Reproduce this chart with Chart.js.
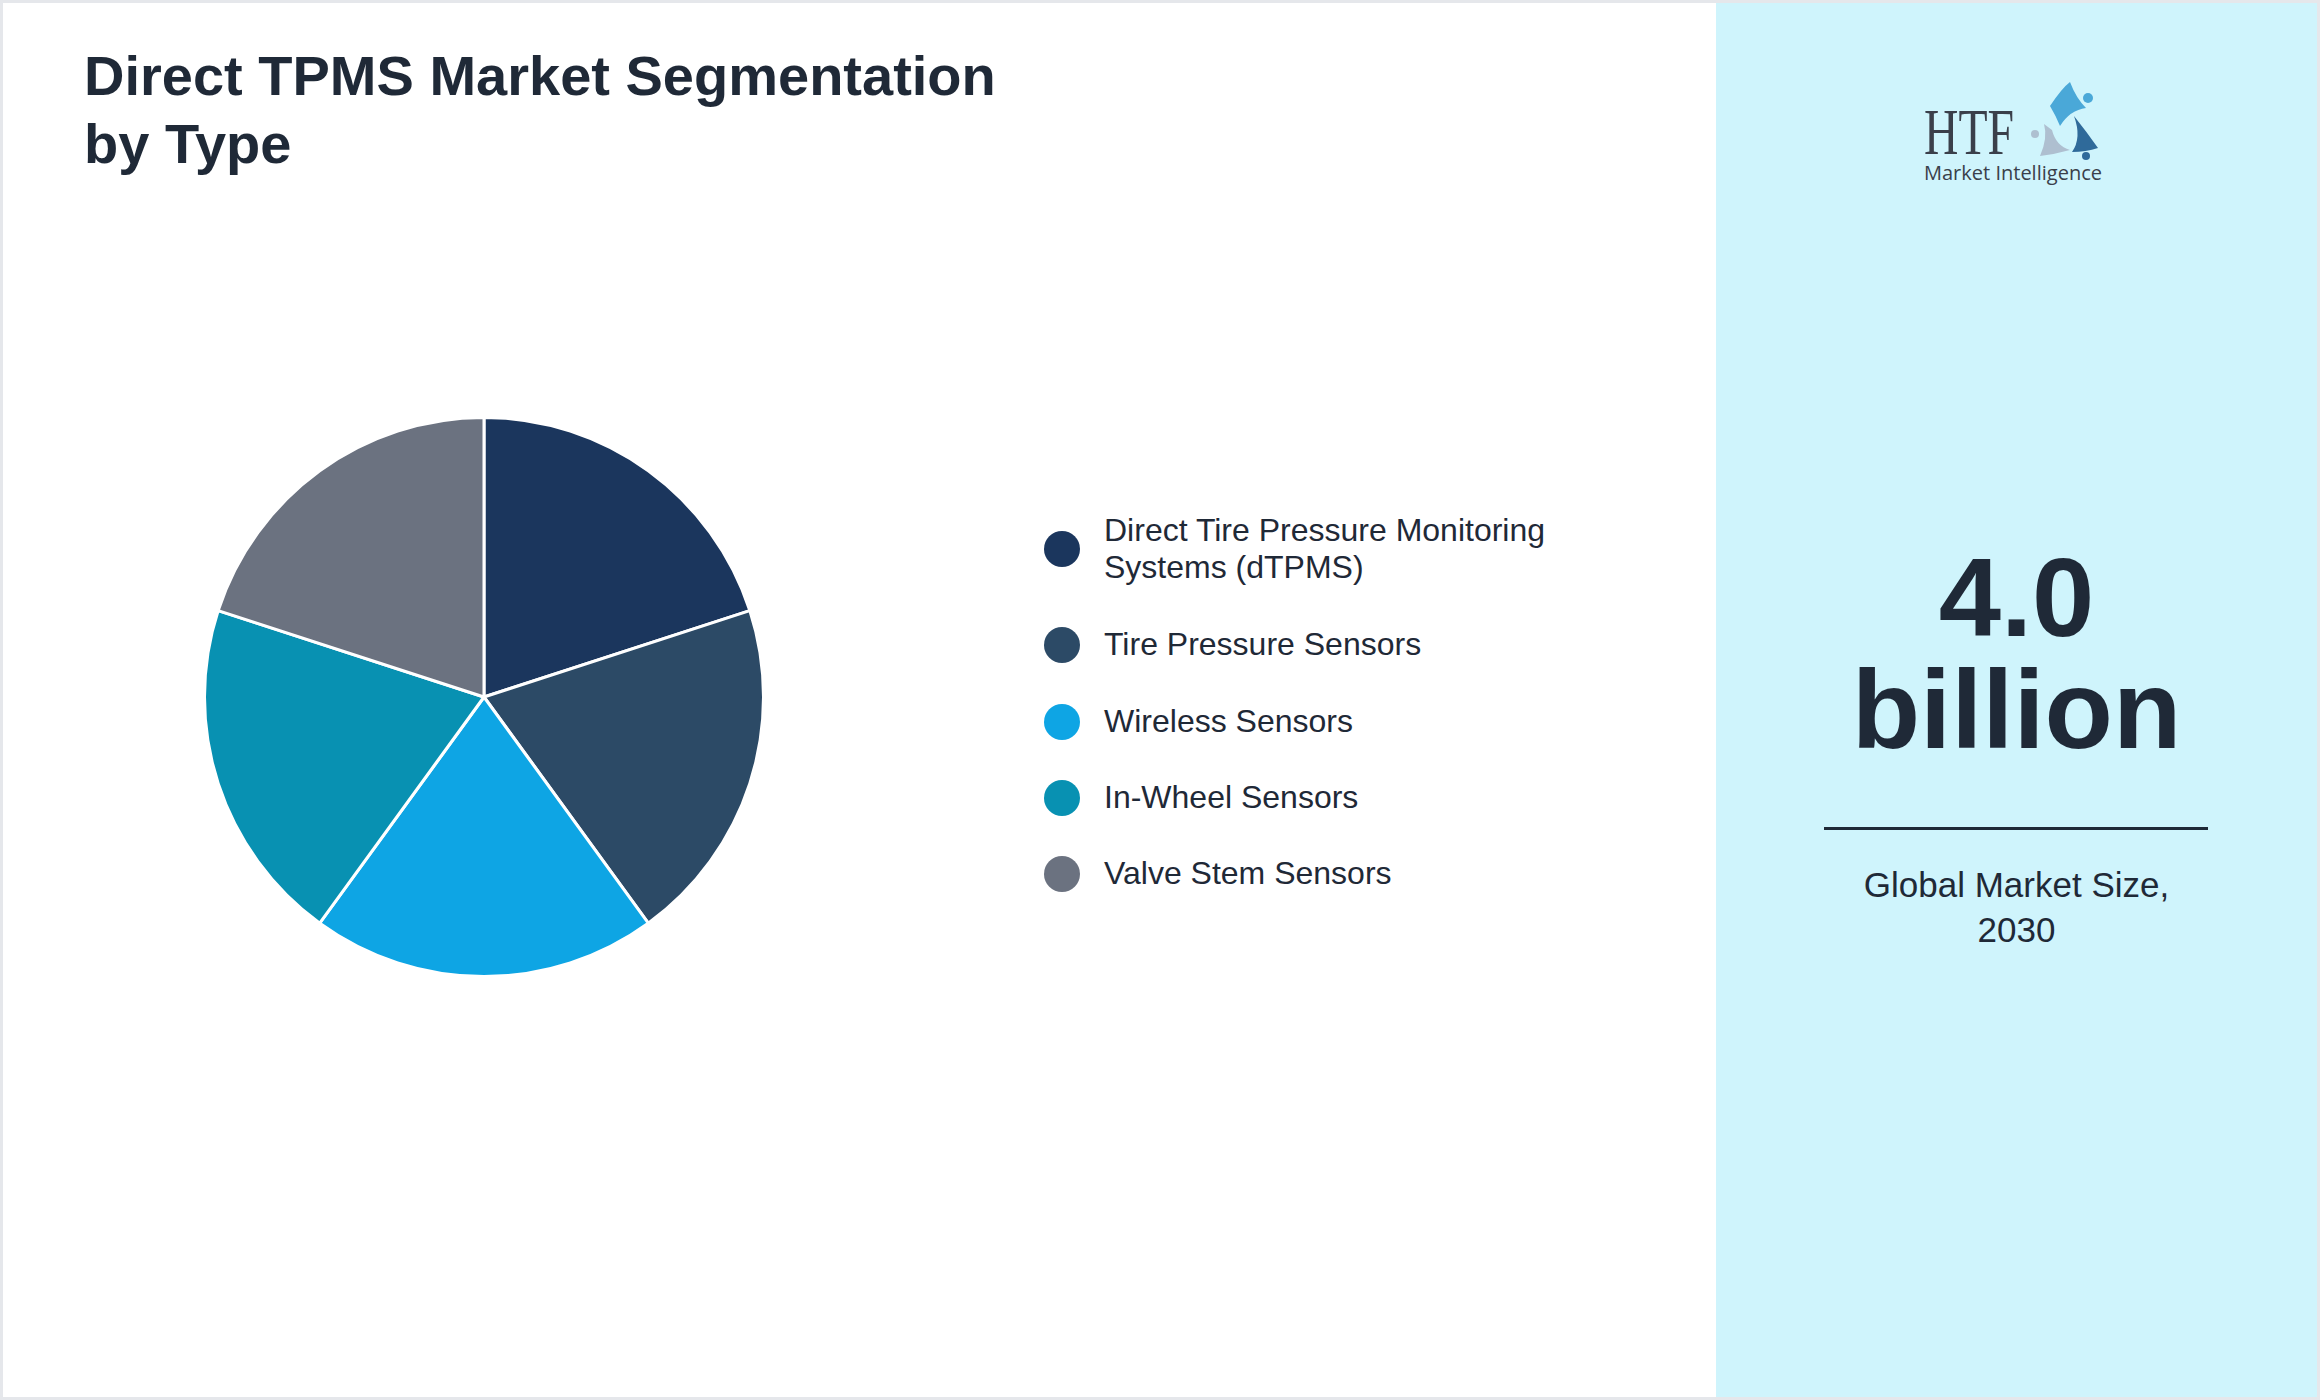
<!DOCTYPE html>
<html>
<head>
<meta charset="utf-8">
<script src="https://cdn.jsdelivr.net/npm/chart.js@4.4.0/dist/chart.umd.min.js"></script>
<style>
  html, body { margin: 0; padding: 0; }
  body { width: 2320px; height: 1400px; position: relative; font-family: "Liberation Sans", Arial, sans-serif; background: #fff; overflow: hidden; }
  #frame { position: absolute; left: 0; top: 0; width: 2314px; height: 1394px; border: 3px solid #e5e7eb; }
  #side { position: absolute; left: 1716px; top: 3px; width: 601px; height: 1394px; background: #cff4fc; }
  #title { position: absolute; left: 84px; top: 42px; font-size: 56px; font-weight: bold; color: #1f2937; line-height: 68px; }
  #pie { position: absolute; left: 196px; top: 409px; width: 576px; height: 576px; }
  #legend { position: absolute; left: 1044px; top: 512px; }
  .item { position: relative; padding-left: 60px; font-size: 32px; color: #1f2937; line-height: 37px; width: 520px; }
  .dot { position: absolute; left: 0; width: 36px; height: 36px; border-radius: 50%; }
  #big { position: absolute; left: 1716px; width: 601px; top: 542px; text-align: center; font-size: 112px; font-weight: bold; color: #1f2937; line-height: 112px; }
  #rule { position: absolute; left: 1824px; top: 827px; width: 384px; height: 3px; background: #1f2937; }
  #sub { position: absolute; left: 1716px; width: 601px; top: 862px; text-align: center; font-size: 35px; color: #1f2937; line-height: 45px; }
  #logo { position: absolute; left: 1920px; top: 76px; }
</style>
</head>
<body>
<div id="frame"></div>
<div id="side"></div>
<div id="title">Direct TPMS Market Segmentation<br>by Type</div>
<div id="pie"><canvas id="chart"></canvas></div>
<div id="legend"></div>
<div id="big">4.0<br>billion</div>
<div id="rule"></div>
<div id="sub">Global Market Size,<br>2030</div>
<svg id="logo" width="190" height="112" viewBox="0 0 190 112">
  <text x="4" y="78" font-family="Liberation Serif, serif" font-size="66" fill="#3a3f4a" textLength="90" lengthAdjust="spacingAndGlyphs">HTF</text>
  <path d="M130 30 Q142 12 150 6 Q156 22 166 32 Q150 34 140 50 Q136 40 130 30 Z" fill="#4aa8d8"/>
  <circle cx="168" cy="22" r="5" fill="#4aa8d8"/>
  <path d="M124 48 Q128 62 120 80 Q136 78 150 74 Q136 70 132 54 Z" fill="#aebfd0"/>
  <circle cx="115" cy="58" r="4" fill="#aebfd0"/>
  <path d="M154 40 Q166 55 178 72 Q166 76 152 76 Q162 62 154 40 Z" fill="#2f6a9a"/>
  <circle cx="166" cy="80" r="4" fill="#2f6a9a"/>
  <text x="4" y="104" font-family="Open Sans, sans-serif" font-size="20" fill="#3a3f4a" textLength="178" lengthAdjust="spacingAndGlyphs">Market Intelligence</text>
</svg>
<script>
const categories = ["Direct Tire Pressure Monitoring Systems (dTPMS)", "Tire Pressure Sensors", "Wireless Sensors", "In-Wheel Sensors", "Valve Stem Sensors"];
const shares = [20, 20, 20, 20, 20];
const colors = ["#1b365d", "#2c4a66", "#0ea5e4", "#0891b2", "#6b7280"];

const legendGaps = [0, 40, 40, 39, 39];
const legend = document.getElementById('legend');
categories.forEach((c, i) => {
  const d = document.createElement('div');
  d.className = 'item';
  d.style.marginTop = legendGaps[i] + 'px';
  const lines = i === 0 ? 2 : 1;
  d.innerHTML = `<span class="dot" style="background:${colors[i]};top:${(lines * 37 - 36) / 2}px"></span>` +
    (i === 0 ? "Direct Tire Pressure Monitoring<br>Systems (dTPMS)" : c);
  legend.appendChild(d);
});

new Chart(document.getElementById('chart'), {
  type: 'pie',
  data: {
    labels: categories,
    datasets: [{ data: shares, backgroundColor: colors, borderColor: '#ffffff', borderWidth: 3 }]
  },
  options: {
    responsive: true,
    maintainAspectRatio: false,
    animation: false,
    layout: { padding: 7 },
    plugins: { legend: { display: false }, tooltip: { enabled: false } }
  }
});
</script>
</body>
</html>
